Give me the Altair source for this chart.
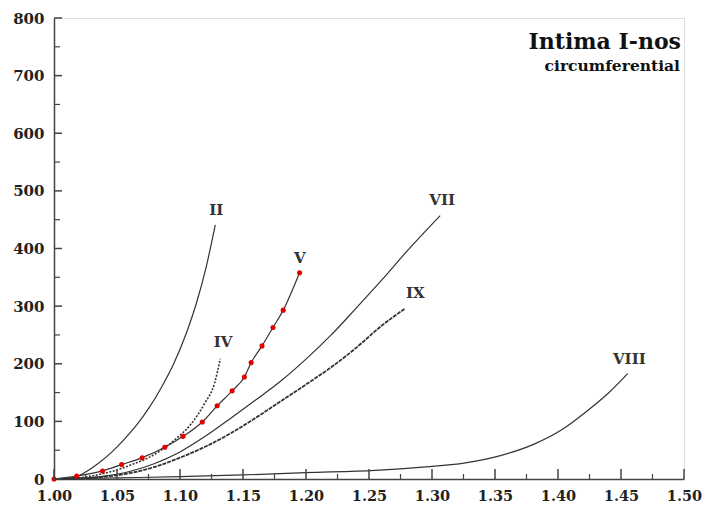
import altair as alt
import pandas as pd

# ---- data ----
II_x = [1.000, 1.015, 1.025, 1.035, 1.045, 1.055, 1.065, 1.075, 1.085, 1.095, 1.105, 1.113, 1.121, 1.128]
II_y = [0, 2, 12, 27, 45, 67, 92, 122, 158, 200, 253, 305, 370, 441]

IV_x = [1.000, 1.020, 1.038, 1.052, 1.064, 1.075, 1.085, 1.0985, 1.109, 1.1195, 1.1274, 1.1320]
IV_y = [0, 2, 9, 17, 27, 37, 50, 73, 96, 131, 166, 209]

V_x = [1.000, 1.018, 1.0385, 1.0537, 1.070, 1.0879, 1.1024, 1.1177, 1.1295, 1.1414,
       1.1511, 1.1565, 1.1651, 1.1738, 1.1819, 1.1949]
V_y = [0, 5, 14, 25, 37, 55, 74, 99, 127, 153, 177, 202, 231, 263, 293, 358]

VII_x = [1.000, 1.020, 1.040, 1.060, 1.080, 1.100, 1.120, 1.140, 1.160, 1.180, 1.200,
         1.220, 1.240, 1.260, 1.280, 1.3065]
VII_y = [0, 1, 5, 13, 27, 47, 74, 105, 137, 170, 208, 250, 297, 345, 395, 457]

IX_x = [1.000, 1.020, 1.040, 1.060, 1.080, 1.100, 1.120, 1.140, 1.160, 1.180, 1.200,
        1.220, 1.240, 1.260, 1.2788]
IX_y = [0, 1, 4, 10, 21, 37, 56, 79, 106, 135, 164, 194, 228, 266, 296]

VIII_x = [1.000, 1.050, 1.100, 1.150, 1.200, 1.255, 1.295, 1.324, 1.355, 1.3815,
          1.4026, 1.4236, 1.4394, 1.4553]
VIII_y = [0, 2, 4, 7, 11, 15, 21, 27, 41, 61, 85, 119, 148, 183]

label_text = ["II", "IV", "V", "VII", "IX", "VIII"]
label_x = [1.1288, 1.1341, 1.1950, 1.3080, 1.2867, 1.4566]
label_y = [467, 238, 383, 485, 322, 209]

x_major = [1.00, 1.05, 1.10, 1.15, 1.20, 1.25, 1.30, 1.35, 1.40, 1.45, 1.50]
x_minor = [1.025, 1.075, 1.125, 1.175, 1.225, 1.275, 1.325, 1.375, 1.425, 1.475]
y_major = [0, 100, 200, 300, 400, 500, 600, 700, 800]
y_minor = [50, 150, 250, 350, 450, 550, 650, 750]

title_main = "Intima I-nos"
title_sub = "circumferential"

W, H = 630, 461
FONT = "DejaVu Serif"
INK = "#333333"

def frame(name, xs, ys):
    return pd.DataFrame({"series": name, "x": xs, "y": ys, "order": range(len(xs))})

solid = pd.concat([
    frame("II", II_x, II_y),
    frame("V", V_x, V_y),
    frame("VII", VII_x, VII_y),
    frame("VIII", VIII_x, VIII_y),
])
noisy = frame("IX", IX_x, IX_y)
dashed = frame("IV", IV_x, IV_y)
dots = frame("Vd", V_x, V_y)
labels = pd.DataFrame({"t": label_text, "x": label_x, "y": label_y})

xs = alt.Scale(domain=[1.0, 1.5], nice=False, zero=False)
ys = alt.Scale(domain=[0, 800], nice=False)

X = alt.X("x:Q", scale=xs, axis=alt.Axis(
    values=x_major, format=".2f", title=None, ticks=False, grid=False, labelFlush=False,
    labelFont=FONT, labelFontWeight="bold", labelFontSize=14.5, labelColor="#222",
    labelPadding=10, domainColor="#444", domainWidth=1.5))
Y = alt.Y("y:Q", scale=ys, axis=alt.Axis(
    values=y_major, title=None, ticks=False, grid=False, labelFlush=False,
    labelFont=FONT, labelFontWeight="bold", labelFontSize=15, labelColor="#222",
    labelPadding=10, domainColor="#444", domainWidth=1.5))

lines = alt.Chart(solid).mark_line(color=INK, strokeWidth=1.2, interpolate="monotone").encode(
    x=X, y=Y, detail="series:N", order="order:Q")
ix = alt.Chart(noisy).mark_line(color=INK, strokeWidth=1.8, strokeDash=[4, 1],
                                interpolate="monotone").encode(
    x=alt.X("x:Q", scale=xs), y=alt.Y("y:Q", scale=ys), order="order:Q")
iv = alt.Chart(dashed).mark_line(color=INK, strokeWidth=1.6, strokeDash=[2, 1.5],
                                 interpolate="monotone").encode(
    x=alt.X("x:Q", scale=xs), y=alt.Y("y:Q", scale=ys), order="order:Q")
pts = alt.Chart(dots).mark_circle(color="#e00000", size=26, opacity=1).encode(
    x=alt.X("x:Q", scale=xs), y=alt.Y("y:Q", scale=ys))
txt = alt.Chart(labels).mark_text(font=FONT, fontWeight="bold", fontSize=15, color="#333",
                                  align="center", baseline="middle").encode(
    x=alt.X("x:Q", scale=xs), y=alt.Y("y:Q", scale=ys), text="t:N")

# inward ticks
ymaj = alt.Chart(pd.DataFrame({"v": y_major})).mark_rule(color="#444", strokeWidth=1.5).encode(
    y=alt.Y("v:Q", scale=ys), x=alt.value(0), x2=alt.value(8))
ymin = alt.Chart(pd.DataFrame({"v": y_minor})).mark_rule(color="#444", strokeWidth=1.2).encode(
    y=alt.Y("v:Q", scale=ys), x=alt.value(0), x2=alt.value(6))
xmaj = alt.Chart(pd.DataFrame({"v": x_major})).mark_rule(color="#444", strokeWidth=1.5).encode(
    x=alt.X("v:Q", scale=xs), y=alt.value(H), y2=alt.value(H - 10))
xmin = alt.Chart(pd.DataFrame({"v": x_minor})).mark_rule(color="#444", strokeWidth=1.2).encode(
    x=alt.X("v:Q", scale=xs), y=alt.value(H), y2=alt.value(H - 5))

t1 = alt.Chart(pd.DataFrame({"t": [title_main]})).mark_text(
    font=FONT, fontWeight="bold", fontSize=22, color="#111", align="right", baseline="alphabetic"
).encode(x=alt.value(W - 3), y=alt.value(31), text="t:N")
t2 = alt.Chart(pd.DataFrame({"t": [title_sub]})).mark_text(
    font=FONT, fontWeight="bold", fontSize=15.5, color="#111", align="right", baseline="alphabetic"
).encode(x=alt.value(W - 4), y=alt.value(53), text="t:N")

chart = alt.layer(lines, ix, iv, pts, txt, ymaj, ymin, xmaj, xmin, t1, t2).properties(
    width=W, height=H,
    autosize=alt.AutoSizeParams(type="none"),
    padding={"left": 46, "top": 10, "right": 18, "bottom": 28},
).configure_view(stroke="#555", strokeWidth=1.5).configure(background="white")

chart.save("out.html", embed_options={"renderer": "svg", "actions": False})
